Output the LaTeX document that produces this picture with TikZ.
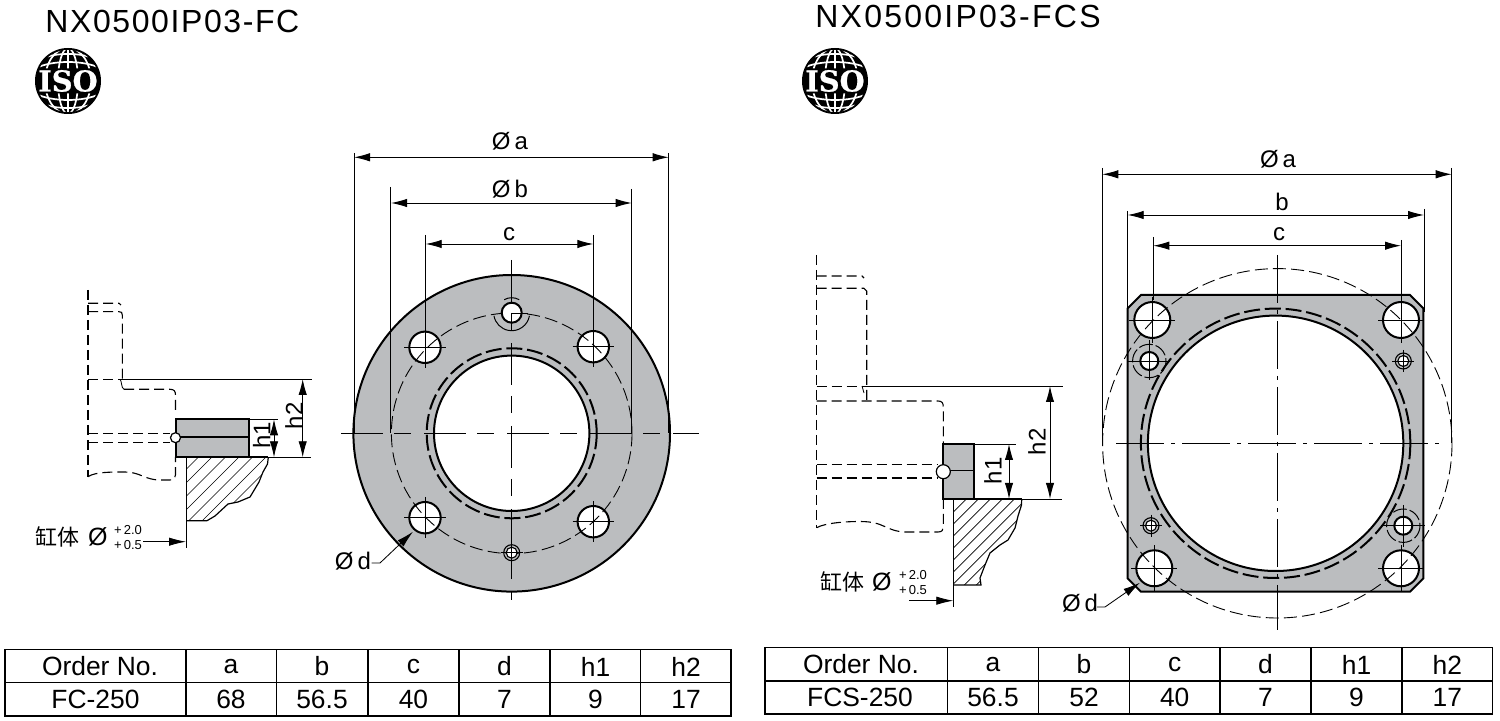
\documentclass[tikz,border=0pt]{standalone}
\usepackage{fontspec}
\setmainfont{Liberation Sans}
\newfontfamily\titlefont[LetterSpace=5]{Liberation Sans}
\newfontfamily\titlefontb[LetterSpace=7]{Liberation Sans}
\newfontfamily\cjkfont{Noto Sans CJK SC}
\newfontfamily\logofont[FakeBold=0.8]{DejaVu Serif Bold}
\usetikzlibrary{arrows.meta}
\definecolor{plategrey}{HTML}{BBBDBF}
\tikzset{
  x=0.5pt,y=-0.5pt,
  txt/.style={inner sep=0pt,outer sep=0pt,font=\fontsize{12}{13}\selectfont},
  cell/.style={inner sep=0pt,font=\fontsize{13.2}{14}\selectfont},
  small/.style={inner sep=0pt,font=\fontsize{6.5}{6.5}\selectfont},
  heading/.style={inner sep=0pt,anchor=base west,font=\fontsize{16}{17}\titlefont},
  thinline/.style={line width=0.42pt,black},
  dimline/.style={line width=0.45pt,black,{Latex[length=8pt,width=4.2pt]}-{Latex[length=8pt,width=4.2pt]}},
  leader/.style={line width=0.42pt,black,-{Latex[length=8.5pt,width=4.2pt]}},
  outline/.style={line width=1pt,black},
  hidden/.style={line width=0.55pt,black,dash pattern=on 5pt off 2.5pt},
  ringdash/.style={line width=1pt,black,dash pattern=on 8pt off 2.4pt},
  pitchdash/.style={line width=0.45pt,black,dash pattern=on 6.5pt off 2.6pt},
  fcaxis/.style={line width=0.45pt,black,dash pattern=on 21pt off 5.5pt on 8.5pt off 6.5pt},
  fcsaxis/.style={line width=0.45pt,black,dash pattern=on 24pt off 3.5pt on 2pt off 3.5pt},
  isologo/.pic={
    \fill[black] (0,0) circle[radius=33];
    \begin{scope}
      \clip (0,0) circle[radius=31];
      \begin{scope}
        \clip (-40,-40) rectangle (40,-12.5) (-40,12.5) rectangle (40,40);
        \draw[white,line width=0.85pt] (0,-33) -- (0,33);
        \draw[white,line width=0.85pt] (0,0) ellipse[x radius=10,y radius=33];
        \draw[white,line width=0.85pt] (0,0) ellipse[x radius=23,y radius=33];
        \draw[white,line width=0.85pt] (-32,-13) .. controls (-15,-21) and (15,-21) .. (32,-13);
        \draw[white,line width=0.85pt] (-22,-24) .. controls (-10,-28) and (10,-28) .. (22,-24);
        \draw[white,line width=0.85pt] (-32,13) .. controls (-15,21) and (15,21) .. (32,13);
        \draw[white,line width=0.85pt] (-22,24) .. controls (-10,28) and (10,28) .. (22,24);
      \end{scope}
    \end{scope}
    \node[text=white,inner sep=0pt,font=\fontsize{14.4}{16}\logofont] at (0,0) {ISO};
  }
}
% hole with cross hair: x, y, radius
\newcommand\crosshole[3]{%
  \fill[white] (#1,#2) circle[radius=#3];
  \draw[outline] (#1,#2) circle[radius=#3];
  \draw[thinline] (#1-#3-5,#2) -- (#1+#3+5,#2);
  \draw[thinline] (#1,#2-#3-5) -- (#1,#2+#3+5);
}
% small counterbored hole: x, y
\newcommand\doublehole[2]{%
  \fill[white] (#1,#2) circle[radius=5];
  \draw[line width=0.55pt] (#1,#2) circle[radius=5.5];
  \draw[line width=0.55pt] (#1,#2) circle[radius=8];
  \draw[thinline] (#1-11,#2) -- (#1+11,#2);
  \draw[thinline] (#1,#2-11) -- (#1,#2+11);
}
\begin{document}
\begin{tikzpicture}
\useasboundingbox (0,0) rectangle (1500,721);
\fill[white] (0,0) rectangle (1500,721);

% ---------- headings and logos
\node[heading] (titleL) at (45,33) {NX0500IP03-FC};
\node[heading,font=\fontsize{16}{17}\titlefontb] (titleR) at (815,28) {NX0500IP03-FCS};
\pic at (68,81) {isologo};
\pic at (835,81) {isologo};

% ---------- LEFT: flange
\fill[plategrey] (511.7,433.3) circle[radius=158.3];
\fill[white] (511.7,433.3) circle[radius=77.7];
\draw[outline] (511.7,433.3) circle[radius=158.3];
\draw[outline] (511.7,433.3) circle[radius=77.7];
\draw[ringdash] (511.7,433.3) circle[radius=85];
\crosshole{425}{347.3}{15.7}
\crosshole{593.3}{346.7}{15.7}
\crosshole{425}{517.7}{15.7}
\crosshole{593.3}{521.7}{15.7}
\draw[pitchdash] (511.7,433.3) circle[radius=120.3];
\fill[white] (511.7,312.7) circle[radius=10];
\draw[outline] (511.7,312.7) circle[radius=10];
\draw[thinline] (511.7,313) -- (528,313);
\draw[line width=0.5pt,shift={(511.7,312.7)}] (10:18) arc[start angle=10,end angle=170,radius=18];
\draw[line width=0.5pt,shift={(511.7,312.7)}] (240:15) arc[start angle=240,end angle=300,radius=15];
\doublehole{511.7}{552.7}
\draw[fcaxis] (341,433.3) -- (699,433.3);
\draw[fcaxis] (511.7,260) -- (511.7,600);

% dimensions
\coordinate (La1) at (354,153); \coordinate (La2) at (354,433);
\coordinate (La3) at (668.7,153); \coordinate (La4) at (668.7,433);
\draw[thinline] (La1) -- (La2); \draw[thinline] (La3) -- (La4);
\draw[dimline] (354,157.3) -- (668.7,157.3);
\node[txt] (LaL) at (510,141) {Ø\,a};
\draw[thinline] (390,187) -- (390,433); \draw[thinline] (631.7,189) -- (631.7,433);
\draw[dimline] (391,203) -- (631.7,203);
\node[txt] (LbL) at (510,189) {Ø\,b};
\draw[thinline] (425.7,235) -- (425.7,332); \draw[thinline] (593.3,235) -- (593.3,332);
\draw[dimline] (425.7,244) -- (593.3,244);
\node[txt] (LcL) at (509,234) {c};
\node[txt] (LdL) at (353,561) {Ø\,d};
\coordinate (Ld1) at (371.7,563); \coordinate (Ld2) at (380,563); \coordinate (Ld3) at (413,531.7);
\draw[leader] (Ld1) -- (Ld2) -- (Ld3);

% ---------- LEFT: section
\draw[hidden] (88,290) -- (88,476.7);
\draw[hidden] (88,303.3) -- (119,303.3) -- (121,305);
\draw[hidden] (88,311.7) -- (119,311.7) .. controls (121.5,311.7) and (122.3,312.5) .. (122.3,315) -- (122.3,379);
\draw[hidden] (88,379.3) -- (120,379.3);
\draw[thinline] (120,379.3) .. controls (122,381) and (121,388) .. (124,389.3);
\draw[hidden] (124,389.3) -- (170,389.3) .. controls (174,389.3) and (175.5,391) .. (175.5,395) -- (175.5,413);
\draw[hidden] (88,433.3) -- (170,433.3);
\draw[hidden] (88,442.7) -- (170,442.7);
\draw[hidden] (88,476.7) .. controls (95,472) and (110,472) .. (125,472) .. controls (140,472) and (145,480) .. (160,480) -- (170,480) .. controls (174,480) and (175.5,478) .. (175.5,475) -- (175.5,457);
\fill[plategrey] (175.5,419.3) rectangle (249.3,457.3);
\draw[outline] (175.5,419.3) rectangle (249.3,457.3);
\draw[line width=0.8pt] (175.5,437.3) -- (249.3,437.3);
\fill[white] (175.5,437.7) circle[radius=5];
\draw[line width=0.6pt] (175.5,437.7) circle[radius=5];
\draw[thinline] (120,379) -- (311.7,379);
\draw[thinline] (249,419.3) -- (278,419.3);
\draw[thinline] (249,457.3) -- (310.5,457.3);
\draw[dimline] (274,419.3) -- (274,457.3);
\draw[dimline] (302.7,379) -- (302.7,457.3);
\node[txt,rotate=90] (Lh1) at (261.7,435) {h1};
\node[txt,rotate=90] (Lh2) at (294,415.7) {h2};
\begin{scope}
  \clip (186,457.3) -- (268.3,457.3) -- (267.5,464) -- (263,472) -- (259,482) -- (250,497) -- (238,502) -- (228,504) -- (215,516) -- (207,520.7) -- (186,520.7) -- cycle;
  \foreach \i in {-5,...,8} \draw[line width=0.35pt] (186+\i*13.5-15,525) -- (186+\i*13.5+60,450);
\end{scope}
\draw[line width=0.5pt] (186,457.3) -- (186,548);
\draw[line width=0.6pt] (186,520.7) -- (207,520.7) -- (215,516) -- (228,504) -- (238,502) -- (250,497) -- (259,482) -- (263,472) -- (267.5,464) -- (268.3,457.3);
\draw[line width=1pt] (186,457.3) -- (268.3,457.3);
\draw[leader] (143,541.7) -- (186,541.7);
\node[txt,anchor=west,font=\fontsize{11}{12}\cjkfont] (Lcyl) at (35,536.7) {缸体};
\node[txt,anchor=west,font=\fontsize{12.5}{13}\selectfont] (Lphi) at (88,536.7) {Ø};
\node[small] (Lup) at (128,530) {+\,2.0};
\node[small] (Llo) at (128,545) {+\,0.5};

% ---------- RIGHT: square flange
\fill[plategrey] (1141,295) -- (1410,295) -- (1423.3,308.3) -- (1423.3,578.4) -- (1410,591.7) -- (1141,591.7) -- (1127.7,578.4) -- (1127.7,308.3) -- cycle;
\fill[white] (1275.6,443.3) circle[radius=127.7];
\draw[outline] (1141,295) -- (1410,295) -- (1423.3,308.3) -- (1423.3,578.4) -- (1410,591.7) -- (1141,591.7) -- (1127.7,578.4) -- (1127.7,308.3) -- cycle;
\draw[outline] (1275.6,443.3) circle[radius=127.7];
\draw[ringdash] (1275.6,443.3) circle[radius=134.7];
\crosshole{1152.3}{320}{18}
\crosshole{1401}{320}{18}
\crosshole{1154.3}{568.3}{18}
\crosshole{1401}{568.3}{18}
\draw[pitchdash] (1277.3,443.3) circle[radius=174.7];
% bored holes with dashed counterbore
\draw[line width=0.5pt,dash pattern=on 7pt off 1.5pt] (1149.3,361) circle[radius=16.7];
\fill[white] (1149.3,361) circle[radius=9];
\draw[outline] (1149.3,361) circle[radius=9];
\draw[thinline] (1128,361) -- (1170,361);
\draw[thinline] (1149.3,340) -- (1149.3,380);
\draw[line width=0.5pt,dash pattern=on 7pt off 1.5pt] (1403.3,525.7) circle[radius=16.7];
\fill[white] (1403.3,525.7) circle[radius=9];
\draw[outline] (1403.3,525.7) circle[radius=9];
\draw[thinline] (1381,525.7) -- (1425,525.7);
\draw[thinline] (1403.3,505) -- (1403.3,547);
\doublehole{1403.3}{361}
\doublehole{1151}{525.7}
\draw[fcsaxis] (1116,443.3) -- (1440,443.3);
\draw[fcsaxis] (1277.3,255) -- (1277.3,630);

% dimensions
\draw[thinline] (1102.3,168) -- (1102.3,443);
\draw[thinline] (1451.7,168) -- (1451.7,443);
\draw[dimline] (1102.3,174.3) -- (1451.7,174.3);
\node[txt] (RaL) at (1278,159) {Ø\,a};
\draw[thinline] (1127.7,211) -- (1127.7,310);
\draw[thinline] (1424,209) -- (1424,312);
\draw[dimline] (1127.7,215) -- (1424,215);
\node[txt] (RbL) at (1282,202) {b};
\draw[thinline] (1153.3,237) -- (1153.3,300);
\draw[thinline] (1401,240) -- (1401,300);
\draw[dimline] (1153.3,245.7) -- (1401,245.7);
\node[txt] (RcL) at (1279,234) {c};
\node[txt] (RdL) at (1080,603) {Ø\,d};
\coordinate (Rd1) at (1097,607); \coordinate (Rd2) at (1105,607); \coordinate (Rd3) at (1140,582.7);
\draw[leader] (Rd1) -- (Rd2) -- (Rd3);

% ---------- RIGHT: section
\draw[hidden] (816.7,255) -- (816.7,527.7);
\draw[hidden] (816.7,276) -- (862,276) -- (864,278);
\draw[hidden] (816.7,288.3) -- (864,288.3) -- (866.7,291) -- (866.7,401);
\draw[hidden] (816.7,386.7) -- (860,386.7);
\draw[thinline] (862,386) -- (864,393);
\draw[hidden] (816.7,401) -- (938,401) .. controls (942,401) and (943.3,403) .. (943.3,407) -- (943.3,444);
\draw[hidden] (816.7,464.7) -- (938,464.7);
\draw[hidden] (816.7,478) -- (938,478);
\draw[hidden] (816.7,527.7) .. controls (825,523) and (845,521.5) .. (860,521.5) .. controls (885,521.5) and (885,531) .. (905,532) -- (938,532) .. controls (942,532) and (943.3,530) .. (943.3,527) -- (943.3,499);
\fill[plategrey] (943.3,444) rectangle (974.3,499);
\draw[outline] (943.3,444) rectangle (974.3,499);
\draw[line width=0.7pt] (943.3,470.7) -- (974.3,470.7);
\fill[white] (943.3,471.7) circle[radius=7];
\draw[line width=0.6pt] (943.3,471.7) circle[radius=7];
\draw[thinline] (862,386) -- (1063.3,386);
\draw[thinline] (974,444) -- (1016,444);
\draw[thinline] (974,499) -- (1061.7,499);
\draw[dimline] (1009,444) -- (1009,499);
\draw[dimline] (1050,386) -- (1050,499);
\node[txt,rotate=90] (Rh1) at (993,470.7) {h1};
\node[txt,rotate=90] (Rh2) at (1037,441.7) {h2};
\begin{scope}
  \clip (953.3,499) -- (1021.7,499) -- (1021.5,505) -- (1018,516) -- (1015,528) -- (1008,540) -- (1000,545) -- (990,553) -- (985,565) -- (980,578) -- (981,585) -- (953.3,585) -- cycle;
  \foreach \i in {-6,...,6} \draw[line width=0.35pt] (953.3+\i*12-30,590) -- (953.3+\i*12+70,490);
\end{scope}
\draw[line width=0.5pt] (953.3,499) -- (953.3,606.7);
\draw[line width=0.6pt] (953.3,585) -- (981,585) -- (980,578) -- (985,565) -- (990,553) -- (1000,545) -- (1008,540) -- (1015,528) -- (1018,516) -- (1021.5,505) -- (1021.7,499);
\draw[line width=1pt] (943.3,499) -- (1021.7,499);
\draw[leader] (909,600.7) -- (953.3,600.7);
\node[txt,anchor=west,font=\fontsize{11}{12}\cjkfont] (Rcyl) at (820,581.7) {缸体};
\node[txt,anchor=west,font=\fontsize{12.5}{13}\selectfont] (Rphi) at (872,581.7) {Ø};
\node[small] (Rup) at (913,575) {+\,2.0};
\node[small] (Rlo) at (913,590) {+\,0.5};

% ---------- tables
\draw[line width=0.6pt] (5,649.3) rectangle (731,716);
\draw[line width=0.6pt] (5,682.7) -- (731,682.7);
\foreach \x in {186,276.5,368,459,550,640.7} \draw[line width=0.6pt] (\x,649.3) -- (\x,716);
\foreach \x/\t [count=\i] in {100/Order No.,231/a,322/b,413.5/c,504.5/d,595.5/h1,686/h2}
  \node[cell] (lh\i) at (\x,666.5) {\t};
\foreach \x/\t [count=\i] in {95.5/FC-250,231/68,322/56.5,413.5/40,504.5/7,595.5/9,686/17}
  \node[cell] (lv\i) at (\x,699.5) {\t};

\draw[line width=0.6pt] (765,647.7) rectangle (1492.6,714);
\draw[line width=0.6pt] (765,681) -- (1492.6,681);
\foreach \x in {947.6,1038.5,1129.4,1220,1311,1402} \draw[line width=0.6pt] (\x,647.7) -- (\x,714);
\foreach \x/\t [count=\i] in {861/Order No.,993/a,1084/b,1174.7/c,1265.5/d,1356.5/h1,1447.3/h2}
  \node[cell] (rh\i) at (\x,664.5) {\t};
\foreach \x/\t [count=\i] in {860/FCS-250,993/56.5,1084/52,1174.7/40,1265.5/7,1356.5/9,1447.3/17}
  \node[cell] (rv\i) at (\x,697.5) {\t};
\end{tikzpicture}
\end{document}
